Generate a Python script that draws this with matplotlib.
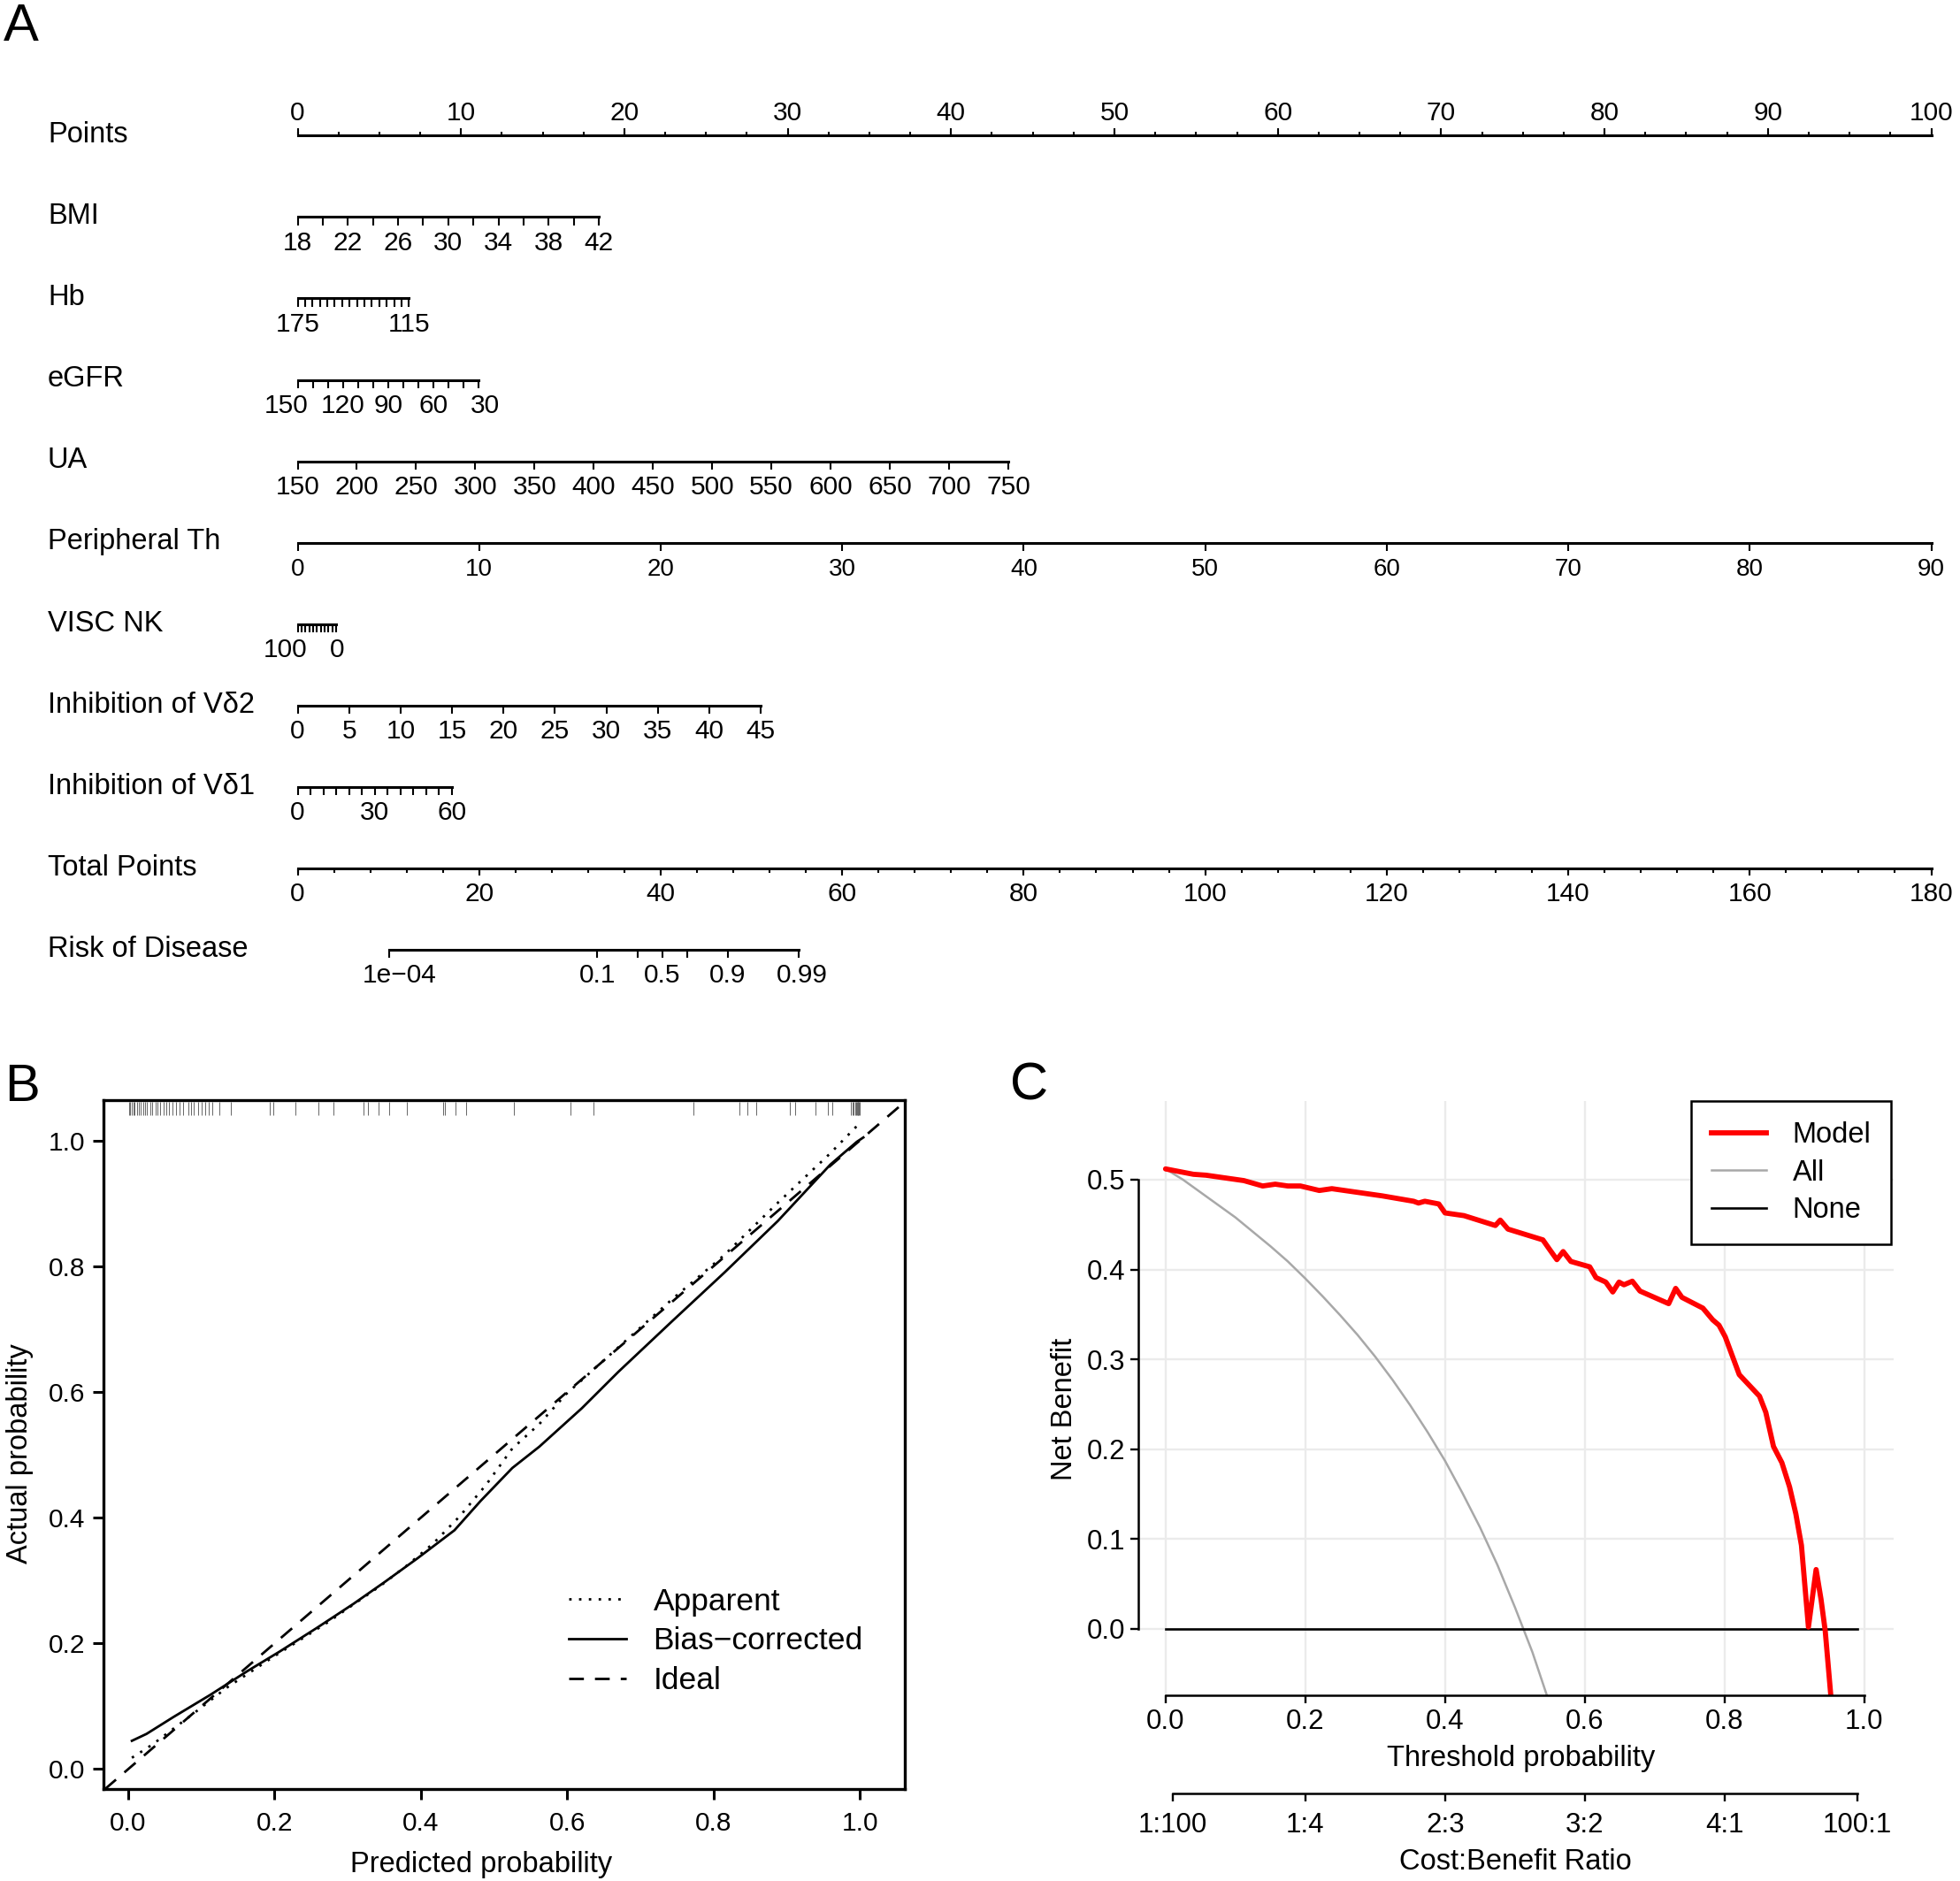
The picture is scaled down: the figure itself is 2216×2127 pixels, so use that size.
import matplotlib
matplotlib.use("Agg")
import matplotlib.pyplot as plt
import numpy as np
from matplotlib.lines import Line2D

plt.rcParams['font.family'] = ['Liberation Sans', 'DejaVu Sans']

# ---------------- data ----------------
# nomogram: each variable has tick values, labelled ticks and its span on the Points scale
row_names = ["Points", "BMI", "Hb", "eGFR", "UA", "Peripheral Th", "VISC NK",
             "Inhibition of Vδ2", "Inhibition of Vδ1", "Total Points", "Risk of Disease"]

points_major = [0, 10, 20, 30, 40, 50, 60, 70, 80, 90, 100]
points_minor = np.arange(0, 100.1, 2.5)

bmi_ticks = np.arange(18, 43, 2)
bmi_labels = [18, 22, 26, 30, 34, 38, 42]
bmi_range, bmi_pts = (18, 42), (0, 18.45)

hb_ticks = np.arange(115, 176, 4)
hb_labels = [175, 115]
hb_range, hb_pts = (175, 115), (0, 6.81)

egfr_ticks = np.arange(30, 151, 10)
egfr_labels = [150, 120, 90, 60, 30]
egfr_range, egfr_pts = (150, 30), (0, 11.09)

ua_ticks = np.arange(150, 751, 50)
ua_labels = list(ua_ticks)
ua_range, ua_pts = (150, 750), (0, 43.5)

pth_ticks = [0, 10, 20, 30, 40, 50, 60, 70, 80, 90]
pth_labels = pth_ticks
pth_range, pth_pts = (0, 90), (0, 100)

nk_ticks = np.arange(0, 101, 10)
nk_labels = [100, 0]
nk_range, nk_pts = (100, 0), (0, 2.36)

vd2_ticks = np.arange(0, 46, 5)
vd2_labels = list(vd2_ticks)
vd2_range, vd2_pts = (0, 45), (0, 28.35)

vd1_ticks = np.arange(0, 61, 5)
vd1_labels = [0, 30, 60]
vd1_range, vd1_pts = (0, 60), (0, 9.45)

total_major = [0, 20, 40, 60, 80, 100, 120, 140, 160, 180]
total_minor = np.arange(0, 181, 4)
total_max = 180

risk_probs = [1e-4, 0.1, 0.3, 0.5, 0.7, 0.9, 0.99]
risk_labels = ["1e\u221204", "0.1", "", "0.5", "", "0.9", "0.99"]
risk_t50 = 40.2      # total points at 50% risk
risk_slope = 0.306   # logit per total point

# crowded labels are nudged sideways a little (in points units), as R does
egfr_nudge = [-0.7, 0, 0, 0, 0.4]
nk_nudge = [-0.75, 0.05]
risk_nudge = [0.6, 0, 0, 0, 0, 0, 0.2]

# calibration curve
rug_b = [0.001, 0.003, 0.005, 0.007, 0.009, 0.012, 0.014, 0.017, 0.020, 0.023, 0.026,
         0.030, 0.033, 0.037, 0.040, 0.044, 0.048, 0.052, 0.056, 0.060, 0.065, 0.070,
         0.075, 0.082, 0.086, 0.090, 0.095, 0.100, 0.105, 0.110, 0.115, 0.125, 0.140,
         0.193, 0.198, 0.229, 0.260, 0.280, 0.322, 0.328, 0.342, 0.357, 0.381, 0.430,
         0.433, 0.448, 0.462, 0.527, 0.604, 0.636, 0.773, 0.836, 0.846, 0.859, 0.905,
         0.912, 0.940, 0.956, 0.962, 0.988, 0.990, 0.992, 0.994, 0.995, 0.996, 0.997,
         0.998, 0.999, 1.000]
ap_x = [0.005, 0.033, 0.091, 0.134, 0.199, 0.272, 0.344, 0.380, 0.417, 0.453, 0.489,
        0.525, 0.562, 0.598, 0.670, 0.743, 0.815, 0.888, 0.960, 0.996]
ap_y = [0.018, 0.039, 0.090, 0.129, 0.179, 0.233, 0.291, 0.323, 0.359, 0.402, 0.452,
        0.510, 0.549, 0.596, 0.671, 0.747, 0.818, 0.901, 0.980, 1.023]
bc_x = [0.005, 0.025, 0.062, 0.112, 0.163, 0.207, 0.257, 0.308, 0.351, 0.395, 0.446,
        0.482, 0.525, 0.562, 0.620, 0.670, 0.743, 0.815, 0.888, 0.960, 0.996, 1.005]
bc_y = [0.045, 0.056, 0.083, 0.118, 0.156, 0.187, 0.224, 0.263, 0.298, 0.335, 0.380,
        0.427, 0.479, 0.513, 0.574, 0.632, 0.712, 0.790, 0.872, 0.962, 0.998, 1.005]

# decision curve
model_t = [0.000, 0.040, 0.058, 0.085, 0.112, 0.139, 0.157, 0.175, 0.193, 0.220, 0.238,
           0.265, 0.310, 0.355, 0.362, 0.371, 0.391, 0.400, 0.427, 0.472, 0.479, 0.490,
           0.540, 0.549, 0.560, 0.569, 0.580, 0.607, 0.616, 0.630, 0.640, 0.649, 0.656,
           0.668, 0.679, 0.720, 0.730, 0.739, 0.769, 0.783, 0.792, 0.801, 0.821, 0.850,
           0.859, 0.870, 0.882, 0.893, 0.902, 0.910, 0.920, 0.931, 0.938, 0.944, 0.952,
           0.956]
model_nb = [0.512, 0.506, 0.505, 0.502, 0.499, 0.493, 0.495, 0.493, 0.493, 0.488, 0.490,
            0.487, 0.482, 0.476, 0.474, 0.476, 0.473, 0.463, 0.460, 0.449, 0.455, 0.445,
            0.433, 0.423, 0.411, 0.420, 0.409, 0.403, 0.391, 0.386, 0.375, 0.386, 0.383,
            0.387, 0.376, 0.362, 0.379, 0.369, 0.357, 0.344, 0.338, 0.325, 0.283, 0.259,
            0.241, 0.203, 0.185, 0.158, 0.128, 0.093, 0.002, 0.066, 0.033, -0.002, -0.074,
            -0.100]
all_t = [0.000, 0.025, 0.050, 0.075, 0.100, 0.125, 0.150, 0.175, 0.200, 0.225, 0.250,
         0.275, 0.300, 0.325, 0.350, 0.375, 0.400, 0.425, 0.450, 0.475, 0.500, 0.525,
         0.550]
all_nb = [0.512, 0.500, 0.486, 0.472, 0.458, 0.442, 0.426, 0.409, 0.390, 0.370, 0.349,
          0.327, 0.303, 0.277, 0.249, 0.219, 0.187, 0.151, 0.113, 0.071, 0.024, -0.026,
          -0.084]
none_t = [0.0, 0.99]
none_nb = [0.0, 0.0]
ratio_at = [0.01, 0.2, 0.4, 0.6, 0.8, 0.99]
ratio_labels = ["1:100", "1:4", "2:3", "3:2", "4:1", "100:1"]

# ---------------- figure ----------------
W, H = 2216, 2127
fig = plt.figure(figsize=(W / 100, H / 100), dpi=100)


def box(l, t, r, b):
    return [l / W, 1 - b / H, (r - l) / W, (b - t) / H]


# ---------------- panel A: nomogram ----------------
axA = fig.add_axes(box(0, 0, W, 1160))
x0_px, pt_px = 336.5, 18.47
row0_px, row_px = 153.3, 92.07
axA.set_xlim(-x0_px / pt_px, (W - x0_px) / pt_px)
axA.set_ylim((1160 - row0_px) / row_px, -row0_px / row_px)
axA.axis("off")

LW, TW = 2.2, 1.5
TICK = 0.10
LAB_FS = 23.5
TK_FS = 21.5


def scale(v, vr, pr):
    v = np.asarray(v, dtype=float)
    return pr[0] + (v - vr[0]) / (vr[1] - vr[0]) * (pr[1] - pr[0])


def draw_row(row, xs, lab_x, labs, fs=TK_FS, ln=TICK, nudge=None):
    axA.plot([min(xs), max(xs)], [row, row], color="black", lw=LW,
             solid_capstyle="projecting")
    axA.vlines(xs, row, row + ln, color="black", lw=TW)
    if nudge is None:
        nudge = [0] * len(labs)
    for x, s, d in zip(lab_x, labs, nudge):
        axA.text(x + d, row + 0.405, str(s), ha="center", va="baseline", fontsize=fs)


for i, name in enumerate(row_names):
    axA.text(54 / W, i + 0.085, name, transform=axA.get_yaxis_transform(),
             ha="left", va="baseline", fontsize=LAB_FS)

# Points (ticks up)
axA.plot([0, 100], [0, 0], color="black", lw=LW, solid_capstyle="projecting")
axA.vlines(points_minor, 0, -0.05, color="black", lw=TW)
axA.vlines(points_major, 0, -0.085, color="black", lw=TW)
for p in points_major:
    axA.text(p, -0.188, str(p), ha="center", va="baseline", fontsize=TK_FS)

draw_row(1, scale(bmi_ticks, bmi_range, bmi_pts), scale(bmi_labels, bmi_range, bmi_pts), bmi_labels)
draw_row(2, scale(hb_ticks, hb_range, hb_pts), scale(hb_labels, hb_range, hb_pts), hb_labels)
draw_row(3, scale(egfr_ticks, egfr_range, egfr_pts), scale(egfr_labels, egfr_range, egfr_pts),
         egfr_labels, nudge=egfr_nudge)
draw_row(4, scale(ua_ticks, ua_range, ua_pts), scale(ua_labels, ua_range, ua_pts), ua_labels)
draw_row(5, scale(pth_ticks, pth_range, pth_pts), scale(pth_labels, pth_range, pth_pts), pth_labels, fs=20)
draw_row(6, scale(nk_ticks, nk_range, nk_pts), scale(nk_labels, nk_range, nk_pts), nk_labels,
         nudge=nk_nudge)
draw_row(7, scale(vd2_ticks, vd2_range, vd2_pts), scale(vd2_labels, vd2_range, vd2_pts), vd2_labels)
draw_row(8, scale(vd1_ticks, vd1_range, vd1_pts), scale(vd1_labels, vd1_range, vd1_pts), vd1_labels)

# Total Points
tp = lambda t: np.asarray(t, dtype=float) * 100.0 / total_max
axA.plot([0, 100], [9, 9], color="black", lw=LW, solid_capstyle="projecting")
axA.vlines(tp(total_minor), 9, 9.05, color="black", lw=TW)
axA.vlines(tp(total_major), 9, 9.085, color="black", lw=TW)
for t in total_major:
    axA.text(tp(t), 9.405, str(t), ha="center", va="baseline", fontsize=TK_FS)

# Risk of Disease
rp = np.array(risk_probs)
risk_x = tp(risk_t50 + np.log(rp / (1 - rp)) / risk_slope)
draw_row(10, risk_x, risk_x, risk_labels, nudge=risk_nudge)

# ---------------- panel B: calibration ----------------
axB = fig.add_axes(box(116.7, 1244.4, 1023.2, 2023.2))
axB.set_xlim(-0.0342, 1.0619)
axB.set_ylim(-0.032, 1.0638)
axB.axline((0, 0), (1, 1), color="black", lw=2.0, ls=(0, (6, 4.5)))
axB.plot(ap_x, ap_y, color="black", lw=2.0, ls=(0, (1, 3)))
axB.plot(bc_x, bc_y, color="black", lw=2.0)
axB.vlines(rug_b, 0.979, 0.998, transform=axB.get_xaxis_transform(),
           color="#666666", lw=0.7)
ticks_b = [0.0, 0.2, 0.4, 0.6, 0.8, 1.0]
axB.set_xticks(ticks_b, [f"{t:.1f}" for t in ticks_b])
axB.set_yticks(ticks_b, [f"{t:.1f}" for t in ticks_b])
axB.tick_params(direction="out", length=8.4, width=2.2, labelsize=21.5)
axB.tick_params(axis="x", pad=9.5)
axB.tick_params(axis="y", pad=6.5)
for s in axB.spines.values():
    s.set_linewidth(2.4)
hB = [Line2D([], [], color="black", lw=2.0, ls=(0, (1, 3))),
      Line2D([], [], color="black", lw=2.0),
      Line2D([], [], color="black", lw=2.0, ls=(0, (6, 4.5)))]
axB.legend(hB, ["Apparent", "Bias\u2212corrected", "Ideal"], loc="upper left",
           bbox_to_anchor=(0.561, 0.316), frameon=False, fontsize=25.5,
           handlelength=1.85, handletextpad=0.85, labelspacing=0.33, borderpad=0)
fig.text(544 / W, 1 - 2117 / H, "Predicted probability", ha="center",
         va="baseline", fontsize=23.5)
fig.text(31 / W, 1 - 1644 / H, "Actual probability", ha="center", va="baseline",
         rotation=90, rotation_mode="anchor", fontsize=23.5)

# ---------------- panel C: decision curve ----------------
axC = fig.add_axes(box(1286.5, 1245.1, 2140.7, 1916.8))
axC.set_xlim(-0.0396, 1.0416)
axC.set_ylim(-0.0738, 0.5875)
axC.grid(True, color="#EBEBEB", lw=1.7)
axC.set_axisbelow(True)
axC.plot(all_t, all_nb, color="#A8A8A8", lw=1.8)
axC.plot(none_t, none_nb, color="black", lw=1.9)
axC.plot(model_t, model_nb, color="#FF0000", lw=4.2, solid_capstyle="round")
axC.set_xticks(ticks_b, [f"{t:.1f}" for t in ticks_b])
ticks_c = [0.0, 0.1, 0.2, 0.3, 0.4, 0.5]
axC.set_yticks(ticks_c, [f"{t:.1f}" for t in ticks_c])
axC.tick_params(direction="out", length=6.5, width=1.7, labelsize=22.5)
axC.tick_params(axis="x", pad=4.5)
axC.tick_params(axis="y", pad=4)
axC.spines["top"].set_visible(False)
axC.spines["right"].set_visible(False)
axC.spines["left"].set_bounds(0, 0.5)
axC.spines["bottom"].set_bounds(0, 1)
axC.spines["left"].set_linewidth(1.8)
axC.spines["bottom"].set_linewidth(1.8)
hC = [Line2D([], [], color="#FF0000", lw=4.2),
      Line2D([], [], color="#A8A8A8", lw=1.8),
      Line2D([], [], color="black", lw=1.9)]
legC = axC.legend(hC, ["Model", "All", "None"], loc="upper right",
                  bbox_to_anchor=(0.997, 1.0), fontsize=23.5, fancybox=False,
                  framealpha=1, edgecolor="black", handlelength=1.9,
                  handletextpad=0.9, labelspacing=0.36, borderpad=0.7,
                  borderaxespad=0)
legC.get_frame().set_linewidth(1.8)

sec = axC.secondary_xaxis(-0.1661)
sec.set_xticks(ratio_at, ratio_labels)
sec.tick_params(direction="out", length=6.5, width=1.7, labelsize=22.5, pad=8.5)
sec.spines["bottom"].set_bounds(0.01, 0.99)
sec.spines["bottom"].set_linewidth(1.8)

fig.text(1720 / W, 1 - 1996.5 / H, "Threshold probability", ha="center",
         va="baseline", fontsize=23.5)
fig.text(1713 / W, 1 - 2114 / H, "Cost:Benefit Ratio", ha="center",
         va="baseline", fontsize=23.5)
fig.text(1212.5 / W, 1 - 1593 / H, "Net Benefit", ha="center", va="baseline",
         rotation=90, rotation_mode="anchor", fontsize=23.5)

# panel letters
fig.text(4 / W, 1 - 46 / H, "A", fontsize=43, va="baseline")
fig.text(5 / W, 1 - 1245 / H, "B", fontsize=43, va="baseline")
fig.text(1142 / W, 1 - 1244 / H, "C", fontsize=43, va="baseline")

fig.savefig("out.png", dpi=100)
